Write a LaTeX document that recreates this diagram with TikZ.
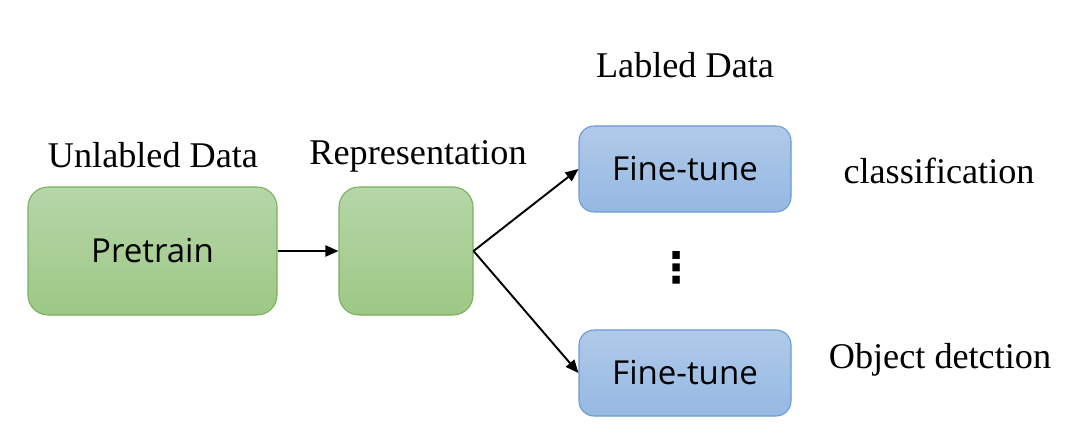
\documentclass[tikz,border=0pt]{standalone}
\usepackage{fontspec}
\setmainfont{Liberation Serif}
\newfontfamily\boxfont{Open Sans}
\newfontfamily\symfont{DejaVu Sans}
\usetikzlibrary{arrows.meta,positioning}

\definecolor{greentop}{HTML}{B6D6A8}
\definecolor{greenbot}{HTML}{9DC885}
\definecolor{greenline}{HTML}{7BAF5C}
\definecolor{bluetop}{HTML}{B0CAE9}
\definecolor{bluebot}{HTML}{95B8E2}
\definecolor{blueline}{HTML}{6A9AD2}

\begin{document}
\begin{tikzpicture}[
  font=\fontsize{20.6}{23}\selectfont,
  stagebox/.style={rounded corners=0.4cm, line width=0.6pt,
    shading=axis, align=center, inner sep=0pt,
    font=\boxfont\fontsize{18.8}{21}\selectfont},
  pretrainbox/.style={stagebox, draw=greenline,
    top color=greentop, bottom color=greenbot},
  tunebox/.style={stagebox, draw=blueline, rounded corners=0.3cm,
    top color=bluetop, bottom color=bluebot,
    minimum width=4.24cm, minimum height=1.72cm},
  flow/.style={-{Triangle[length=2.6mm,width=2.2mm]}, line width=1.1pt},
  caption/.style={inner sep=1pt}
]
\useasboundingbox (0,0) rectangle (21.66,8.92);

\node[pretrainbox, minimum width=4.98cm, minimum height=2.56cm]
  (pretrain) at (3.05,3.90) {Pretrain};
\node[pretrainbox, minimum width=2.68cm, minimum height=2.56cm]
  (repr) at (8.12,3.90) {};
\node[tunebox] (tuneA) at (13.70,5.54) {Fine-tune};
\node[tunebox] (tuneB) at (13.70,1.46) {Fine-tune};
\node[font=\symfont\bfseries\fontsize{24}{26}\selectfont, inner sep=0pt]
  (dots) at (13.54,3.57) {⋮};

\node[caption] (unlab) at (3.06,5.82) {Unlabled Data};
\node[caption] (reprlab) at (8.36,5.80) {Representation};
\node[caption] (lab) at (13.70,7.62) {Labled Data};
\node[caption] (cls) at (18.78,5.50) {classification};
\node[caption] (det) at (18.80,1.72) {Object detction};

\draw[flow] (pretrain.east) -- (repr.west);
\draw[flow] (repr.east) -- (tuneA.west);
\draw[flow] (repr.east) -- (tuneB.west);
\end{tikzpicture}
\end{document}
